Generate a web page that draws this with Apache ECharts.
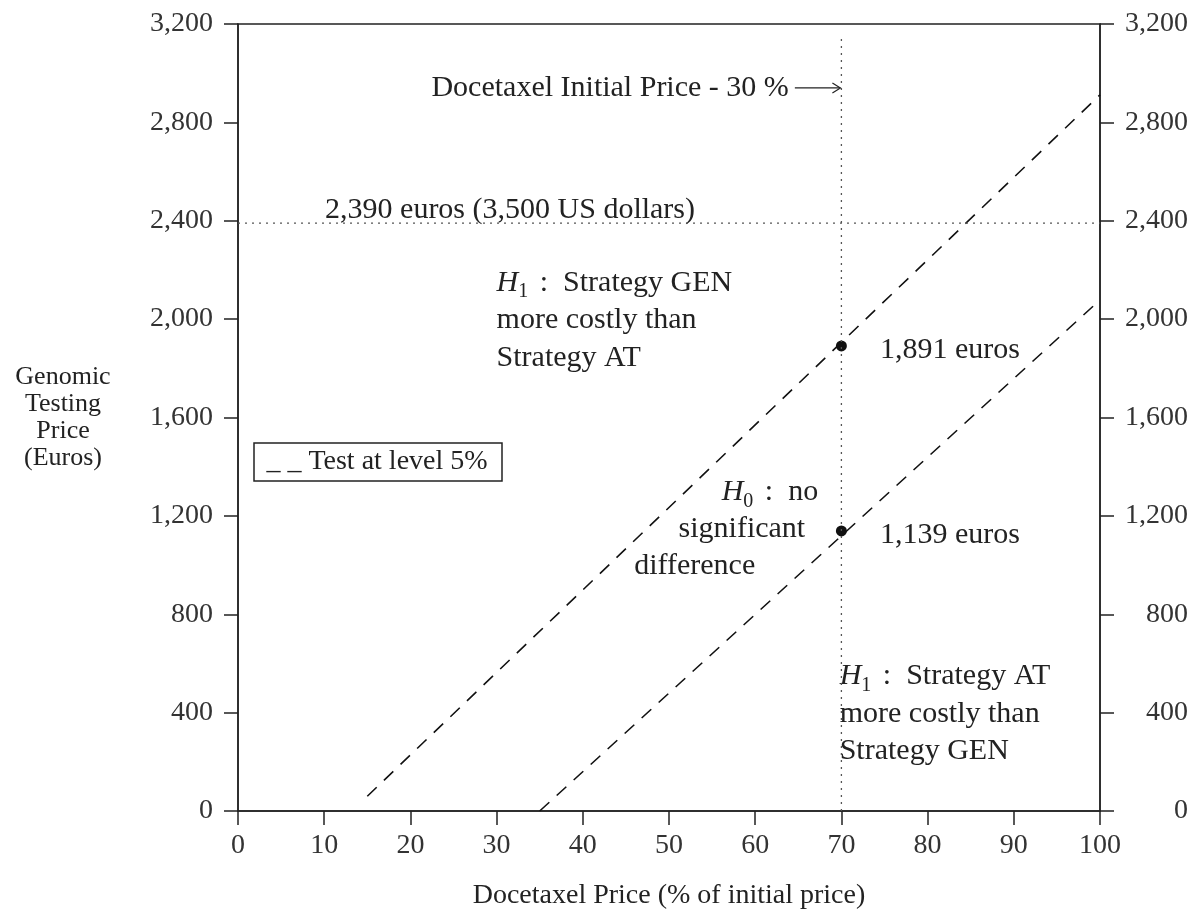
<!DOCTYPE html>
<html>
<head>
<meta charset="utf-8">
<script src="https://cdn.jsdelivr.net/npm/echarts@6/dist/echarts.min.js"></script>
<style>
html,body{margin:0;padding:0;background:#fff;}
#main{width:1201px;height:915px;}
</style>
</head>
<body>
<div id="main"></div>
<script>
// ---- data ----
const xTicks = [0, 10, 20, 30, 40, 50, 60, 70, 80, 90, 100];
const yTicks = [0, 400, 800, 1200, 1600, 2000, 2400, 2800, 3200];
const upperTestLine = [[15, 60], [100, 2912]];   // H1 GEN boundary (dashed)
const lowerTestLine = [[35, 0], [100, 2078]];    // H1 AT boundary (dashed)
const budgetLine = [[0, 2390], [100, 2390]];     // 2,390 euros
const priceCutLine = [[70, 0], [70, 3150]];      // docetaxel -30 %
const thresholdPoints = [[70, 1891, '1,891 euros'], [70, 1139, '1,139 euros']];

const FONT = "'Liberation Serif', 'Times New Roman', serif";
const FS = 30;      // annotation text
const TFS = 28;     // tick labels
const TXT = '#222';

const fmt = v => v >= 1000 ? Math.floor(v / 1000) + ',' + String(v % 1000).padStart(3, '0') : String(v);

const chart = echarts.init(document.getElementById('main'), null, {renderer: 'canvas'});

const axisLineStyle = {color: '#222', width: 1.5};

chart.setOption({
  backgroundColor: '#fff',
  animation: false,
  textStyle: {fontFamily: FONT},
  grid: {left: 238, right: 101, top: 24, bottom: 103, show: true, borderColor: '#222', borderWidth: 1.5},
  xAxis: {
    type: 'value', min: xTicks[0], max: xTicks[xTicks.length - 1], interval: 10,
    axisLine: {show: true, lineStyle: axisLineStyle},
    axisTick: {show: true, inside: false, length: 14, lineStyle: axisLineStyle},
    axisLabel: {fontFamily: FONT, fontSize: TFS, color: '#333', margin: 21},
    splitLine: {show: false},
    name: 'Docetaxel Price (% of initial price)',
    nameLocation: 'middle', nameGap: 71,
    nameTextStyle: {fontFamily: FONT, fontSize: TFS, color: TXT}
  },
  yAxis: [{
    type: 'value', min: yTicks[0], max: yTicks[yTicks.length - 1], interval: 400, position: 'left',
    axisLine: {show: true, lineStyle: axisLineStyle},
    axisTick: {show: true, inside: false, length: 14, lineStyle: axisLineStyle},
    axisLabel: {fontFamily: FONT, fontSize: TFS, color: '#333', margin: 25, formatter: fmt},
    splitLine: {show: false}
  }, {
    type: 'value', min: yTicks[0], max: yTicks[yTicks.length - 1], interval: 400, position: 'right',
    axisLine: {show: true, lineStyle: axisLineStyle},
    axisTick: {show: true, inside: false, length: 14, lineStyle: axisLineStyle},
    axisLabel: {fontFamily: FONT, fontSize: TFS, color: '#333', margin: 88, align: 'right', formatter: fmt},
    splitLine: {show: false}
  }],
  series: [
    {type: 'line', data: upperTestLine, symbol: 'none', silent: true,
     lineStyle: {color: '#111', width: 1.6, type: [13, 10]}},
    {type: 'line', data: lowerTestLine, symbol: 'none', silent: true,
     lineStyle: {color: '#111', width: 1.6, type: [13, 10]}},
    {type: 'line', data: budgetLine, symbol: 'none', silent: true,
     lineStyle: {color: '#555', width: 1.3, type: [2, 5]}},
    {type: 'line', data: priceCutLine, symbol: 'none', silent: true,
     lineStyle: {color: '#555', width: 1.3, type: [2, 5]}},
    {type: 'scatter', data: thresholdPoints, symbol: 'circle', symbolSize: 11, silent: true,
     itemStyle: {color: '#111', opacity: 1},
     label: {show: true, position: 'right', distance: 33, offset: [0, 4],
             formatter: p => p.data[2], fontFamily: FONT, fontSize: FS, color: TXT, opacity: 1}}
  ]
});

// ---- annotations anchored in data coordinates ----
const px = (x, y) => chart.convertToPixel({xAxisIndex: 0, yAxisIndex: 0}, [x, y]);
const rich = {
  h: {fontFamily: FONT, fontSize: FS, fontStyle: 'italic', lineHeight: 37.5, fill: TXT},
  s: {fontFamily: FONT, fontSize: 20, lineHeight: 37.5, verticalAlign: 'bottom', fill: TXT, padding: [0, 4, 0, 0]}
};
function txt(x, y, text, align) {
  const p = px(x, y);
  return {
    type: 'text', x: p[0], y: p[1], silent: true,
    style: {text: text, font: FS + 'px ' + FONT, fill: TXT, align: align || 'left',
            verticalAlign: 'middle', lineHeight: 37.5, rich: rich}
  };
}

const ctrY = px(0, 1600)[1];
const arrowStart = px(64.6, 2940);
const arrowEnd = px(70, 2940);
chart.setOption({
  graphic: [
    txt(63.9, 2940, 'Docetaxel Initial Price - 30 %', 'right'),
    {type: 'line', silent: true,
     shape: {x1: arrowStart[0], y1: arrowStart[1], x2: arrowEnd[0] - 1, y2: arrowEnd[1]},
     style: {stroke: '#222', lineWidth: 1.2}},
    {type: 'polyline', silent: true,
     shape: {points: [[arrowEnd[0] - 9, arrowEnd[1] - 5], [arrowEnd[0] - 1, arrowEnd[1]], [arrowEnd[0] - 9, arrowEnd[1] + 5]]},
     style: {stroke: '#222', lineWidth: 1.2, fill: null}},
    txt(10.1, 2443, '2,390 euros (3,500 US dollars)', 'left'),
    txt(30.0, 1995, '{h|H}{s|1} :  Strategy GEN\nmore costly than\nStrategy AT', 'left'),
    txt(67.3, 1295, '{h|H}{s|0} :  no', 'right'),
    txt(65.8, 1145, 'significant', 'right'),
    txt(60.0, 995, 'difference', 'right'),
    txt(69.8, 394, '{h|H}{s|1} :  Strategy AT\nmore costly than\nStrategy GEN', 'left'),
    {type: 'text', x: 63, y: ctrY, silent: true,
     style: {text: 'Genomic\nTesting\nPrice\n(Euros)', font: '26px ' + FONT, fill: TXT,
             align: 'center', verticalAlign: 'middle', lineHeight: 27}},
    {type: 'rect', silent: true,
     shape: {x: 254, y: 443, width: 248, height: 38},
     style: {fill: '#fff', stroke: '#222', lineWidth: 1.5}},
    {type: 'text', x: 377, y: 462, silent: true,
     style: {text: '_ _ Test at level 5%', font: '28px ' + FONT, fill: TXT,
             align: 'center', verticalAlign: 'middle'}}
  ]
});
</script>
</body>
</html>
